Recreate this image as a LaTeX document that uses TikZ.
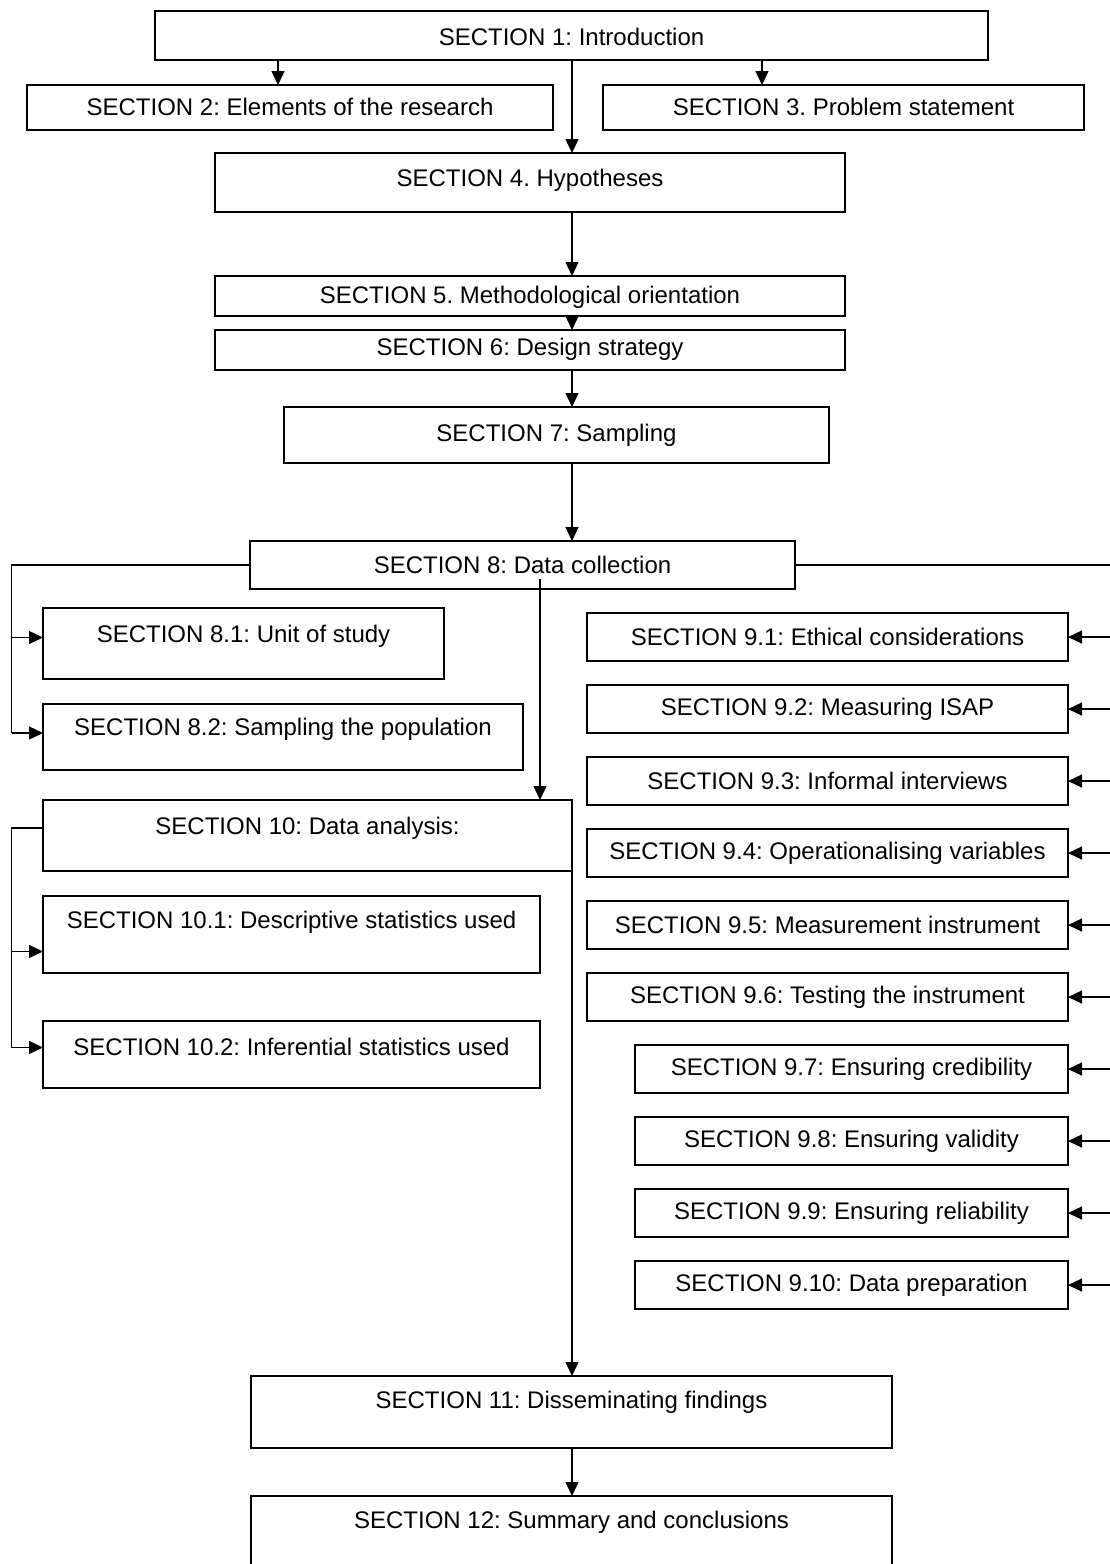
\documentclass[tikz,border=0pt]{standalone}
\usepackage{fontspec}
\setmainfont{Liberation Sans}
\usetikzlibrary{arrows.meta}
\begin{document}
\frenchspacing
\begin{tikzpicture}[x=1pt,y=-1pt,
  box/.style={draw=black, line width=2pt, fill=white, inner sep=0pt, outer sep=0pt},
  txt/.style={inner sep=0pt, font=\fontsize{24}{28}\selectfont\frenchspacing, anchor=center},
  wire/.style={draw=black, line width=1.3pt},
  arr/.style={wire, -{Triangle[length=14pt,width=13pt]}}]
\useasboundingbox (0,0) rectangle (1110,1564);

% ---- main column ----
\node[box, minimum width=833pt, minimum height=49pt] (s1) at (571.5,35.5) {};
\node[txt] (s1t) at (571.5,37) {SECTION 1: Introduction};
\node[box, minimum width=526pt, minimum height=45pt] (s2) at (290,107.5) {};
\node[txt] (s2t) at (290,107) {SECTION 2: Elements of the research};
\node[box, minimum width=481pt, minimum height=45pt] (s3) at (843.5,107.5) {};
\node[txt] (s3t) at (843.5,107) {SECTION 3. Problem statement};
\node[box, minimum width=630pt, minimum height=59pt] (s4) at (530,182.5) {};
\node[txt] (s4t) at (530,180) {SECTION 4. Hypotheses};
\node[box, minimum width=630pt, minimum height=40pt] (s5) at (530,296) {};
\node[txt] (s5t) at (530,297) {SECTION 5. Methodological orientation};
\node[box, minimum width=630pt, minimum height=40pt] (s6) at (530,350) {};
\node[txt] (s6t) at (530,349) {SECTION 6: Design strategy};
\node[box, minimum width=545pt, minimum height=56pt] (s7) at (556.5,435) {};
\node[txt] (s7t) at (556.5,435) {SECTION 7: Sampling};
\node[box, minimum width=545pt, minimum height=48pt] (s8) at (522.5,565) {};
\node[txt] (s8t) at (522.5,565) {SECTION 8: Data collection};

% ---- left branch: sections 8.x and 10 ----
\node[box, minimum width=401pt, minimum height=71pt] (s81) at (243.5,643.5) {};
\node[txt] (s81t) at (243.5,636) {SECTION 8.1: Unit of study};
\node[box, minimum width=480pt, minimum height=66pt] (s82) at (283,737) {};
\node[txt] (s82t) at (283,729) {SECTION 8.2: Sampling the population};
\node[box, minimum width=529pt, minimum height=71pt] (s10) at (307.5,835.5) {};
\node[txt] (s10t) at (307.5,828) {SECTION 10: Data analysis:};
\node[box, minimum width=497pt, minimum height=77pt] (s101) at (291.5,934.5) {};
\node[txt] (s101t) at (291.5,922) {SECTION 10.1: Descriptive statistics used};
\node[box, minimum width=497pt, minimum height=67pt] (s102) at (291.5,1054.5) {};
\node[txt] (s102t) at (291.5,1047) {SECTION 10.2: Inferential statistics used};

% ---- right branch: sections 9.x ----
\foreach \k/\lx/\lab in {1/587/{SECTION 9.1: Ethical considerations},
                         2/587/{SECTION 9.2: Measuring ISAP},
                         3/587/{SECTION 9.3: Informal interviews},
                         4/587/{SECTION 9.4: Operationalising variables},
                         5/587/{SECTION 9.5: Measurement instrument},
                         6/587/{SECTION 9.6: Testing the instrument},
                         7/635/{SECTION 9.7: Ensuring credibility},
                         8/635/{SECTION 9.8: Ensuring validity},
                         9/635/{SECTION 9.9: Ensuring reliability},
                         10/635/{SECTION 9.10: Data preparation}}{
  \pgfmathsetmacro{\cy}{637+72*(\k-1)}
  \pgfmathsetmacro{\cx}{(\lx+1068)/2}
  \pgfmathsetmacro{\bw}{1068-\lx}
  \node[box, minimum width=\bw pt, minimum height=48pt] (s9-\k) at (\cx,\cy) {};
  \node[txt] (s9-\k t) at (\cx,\cy) {\lab};
}

% ---- bottom ----
\node[box, minimum width=641pt, minimum height=72pt] (s11) at (571.5,1412) {};
\node[txt] (s11t) at (571.5,1402) {SECTION 11: Disseminating findings};
\node[box, minimum width=641pt, minimum height=120pt] (s12) at (571.5,1556) {};
\node[txt] (s12t) at (571.5,1522) {SECTION 12: Summary and conclusions};

% ---- guide coordinates for connector columns ----
\coordinate (xa) at (278,0);
\coordinate (xb) at (762,0);
\coordinate (xm) at (572,0);
\coordinate (xd) at (540,0);
\coordinate (xl) at (11.5,0);
\coordinate (xr) at (1111,0);

% ---- connectors ----
\draw[arr] (s1.south -| xa) -- (s2.north -| xa);
\draw[arr] (s1.south -| xb) -- (s3.north -| xb);
\draw[arr] (s1.south -| xm) -- (s4.north -| xm);
\draw[arr] (s4.south -| xm) -- (s5.north -| xm);
\draw[arr] (s5.south -| xm) -- (s6.north -| xm);
\draw[arr] (s6.south -| xm) -- (s7.north -| xm);
\draw[arr] (s7.south -| xm) -- (s8.north -| xm);

% section 8 to its sub-sections on the left
\draw[wire] (s8.west) -- (s8.west -| xl) -- ([yshift=4pt]s82.west -| xl);
\draw[arr] ([yshift=6pt]s81.west -| xl) -- ([yshift=6pt]s81.west);
\draw[arr] ([yshift=4pt]s82.west -| xl) -- ([yshift=4pt]s82.west);

% section 8 to the 9.x sections on the right
\draw[wire] (s8.east) -- (s8.east -| xr) -- (s9-10.east -| xr);
\foreach \k in {1,...,10}{
  \draw[arr] (s9-\k.east -| xr) -- (s9-\k.east);
}

% section 8 down to section 10
\draw[arr] ([yshift=10pt]s8.south -| xd) -- (s10.north -| xd);

% section 10 to its sub-sections
\draw[wire] (s10.west |- s10t) -- (xl |- s10t) -- ([yshift=7pt]s102.west -| xl);
\draw[arr] ([yshift=-17pt]s101.west -| xl) -- ([yshift=-17pt]s101.west);
\draw[arr] ([yshift=7pt]s102.west -| xl) -- ([yshift=7pt]s102.west);

% section 10 down to sections 11 and 12
\draw[arr] (s10.south east) -- (s11.north -| s10.south east);
\draw[arr] (s11.south -| xm) -- (s12.north -| xm);
\end{tikzpicture}
\end{document}
